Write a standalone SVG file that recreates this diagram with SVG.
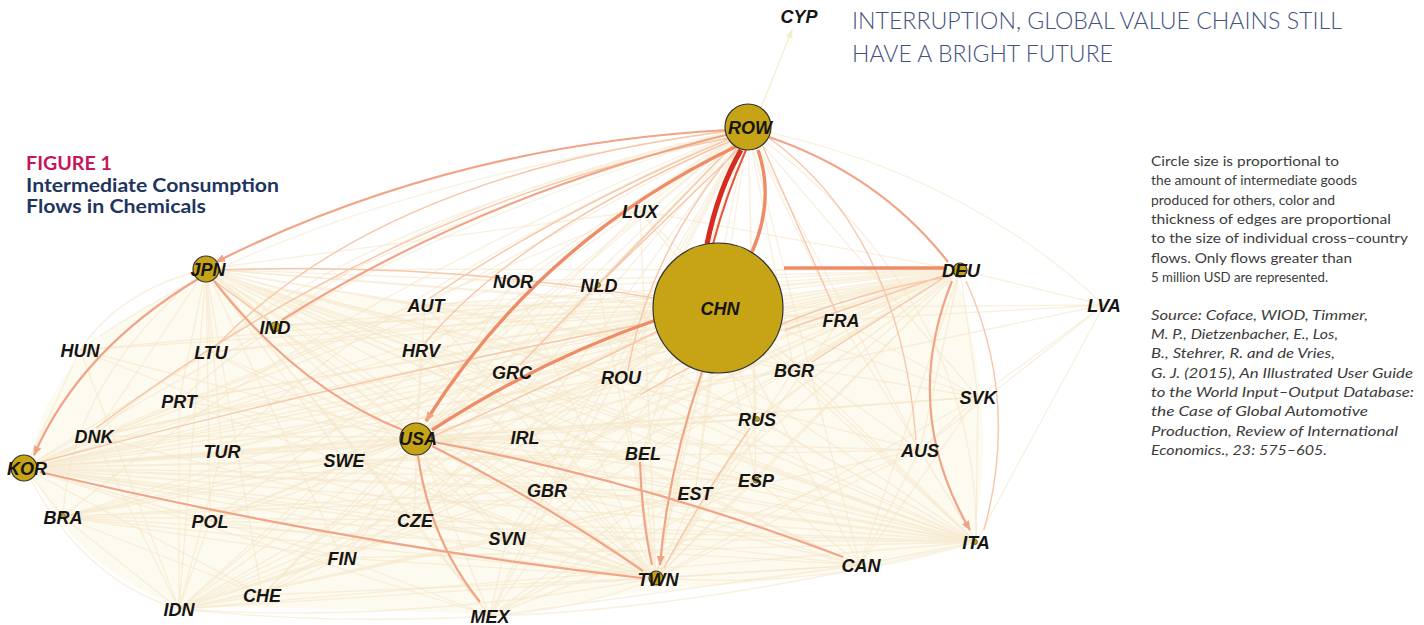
<svg xmlns="http://www.w3.org/2000/svg" width="1424" height="625" viewBox="0 0 1424 625">
<style>
.cream{fill:none;stroke:#f4e4c2;stroke-width:1.3;opacity:.55}
.lo{fill:none;stroke:#f6c7a9;stroke-width:1.4}
.mo{fill:none;stroke:#f1a485;stroke-width:2.2}
.so{fill:none;stroke:#ee8c67;stroke-width:3.4}
.red{fill:none;stroke:#d62b1e;stroke-width:5}
.hub{fill:#c6a415;stroke:#333;stroke-width:1.2}
.dot{fill:#c6a415;stroke:#333;stroke-width:.6}
.lbl{font-family:"Liberation Sans",Arial,sans-serif;font-weight:bold;font-style:italic;font-size:18px;fill:#151515;text-anchor:middle}
.note{font-family:Lato,"Open Sans",sans-serif;font-size:14px;fill:#3c3c3c}
.src{font-family:Lato,"Open Sans",sans-serif;font-size:14px;font-style:italic;fill:#3c3c3c}
.head{font-family:Lato,"Open Sans",sans-serif;font-weight:300;font-size:23px;fill:#43527e}
.ttl{font-family:Lato,"Open Sans",sans-serif;font-weight:bold;font-size:18px;fill:#1f3560}
</style>
<defs>
<marker id="am" markerUnits="userSpaceOnUse" markerWidth="10" markerHeight="8" refX="9" refY="4" orient="auto"><path d="M0 0L10 4L0 8z" fill="#f1a485"/></marker>
<marker id="al" markerUnits="userSpaceOnUse" markerWidth="9" markerHeight="7" refX="8" refY="3.5" orient="auto"><path d="M0 0L9 3.5L0 7z" fill="#f3eec8"/></marker>
</defs>
<rect width="1424" height="625" fill="#fff"/>

<g id="title">
<text x="26" y="170" font-family="Lato,'Open Sans',sans-serif" font-weight="bold" font-size="18" fill="#c7155c" textLength="86" lengthAdjust="spacingAndGlyphs">FIGURE 1</text>
<text class="ttl" x="26" y="192" textLength="253" lengthAdjust="spacingAndGlyphs">Intermediate Consumption</text>
<text class="ttl" x="26" y="213" textLength="180" lengthAdjust="spacingAndGlyphs">Flows in Chemicals</text>
</g>
<g id="heading">
<text class="head" x="852" y="29" textLength="490" lengthAdjust="spacingAndGlyphs">INTERRUPTION, GLOBAL VALUE CHAINS STILL</text>
<text class="head" x="852" y="62" textLength="261" lengthAdjust="spacingAndGlyphs">HAVE A BRIGHT FUTURE</text>
</g>
<g id="legend-note">
<text class="note" x="1151" y="166" textLength="188" lengthAdjust="spacingAndGlyphs">Circle size is proportional to</text>
<text class="note" x="1151" y="185" textLength="206" lengthAdjust="spacingAndGlyphs">the amount of intermediate goods</text>
<text class="note" x="1151" y="205" textLength="184" lengthAdjust="spacingAndGlyphs">produced for others, color and</text>
<text class="note" x="1151" y="224" textLength="240" lengthAdjust="spacingAndGlyphs">thickness of edges are proportional</text>
<text class="note" x="1151" y="243" textLength="257" lengthAdjust="spacingAndGlyphs">to the size of individual cross–country</text>
<text class="note" x="1151" y="263" textLength="201" lengthAdjust="spacingAndGlyphs">flows. Only flows greater than</text>
<text class="note" x="1151" y="282" textLength="177" lengthAdjust="spacingAndGlyphs">5 million USD are represented.</text>
<text class="src" x="1151" y="320" textLength="217" lengthAdjust="spacingAndGlyphs">Source: Coface, WIOD, Timmer,</text>
<text class="src" x="1151" y="339" textLength="187" lengthAdjust="spacingAndGlyphs">M. P., Dietzenbacher, E., Los,</text>
<text class="src" x="1151" y="358" textLength="184" lengthAdjust="spacingAndGlyphs">B., Stehrer, R. and de Vries,</text>
<text class="src" x="1151" y="378" textLength="262" lengthAdjust="spacingAndGlyphs">G. J. (2015), An Illustrated User Guide</text>
<text class="src" x="1151" y="397" textLength="263" lengthAdjust="spacingAndGlyphs">to the World Input–Output Database:</text>
<text class="src" x="1151" y="416" textLength="217" lengthAdjust="spacingAndGlyphs">the Case of Global Automotive</text>
<text class="src" x="1151" y="436" textLength="247" lengthAdjust="spacingAndGlyphs">Production, Review of International</text>
<text class="src" x="1151" y="455" textLength="176" lengthAdjust="spacingAndGlyphs">Economics., 23: 575–605.</text>
</g>

<g id="connectors">
<path d="M30 468Q45 335 206 282L420 302L650 302L958 280Q1000 420 972 540Q820 585 660 588Q560 606 490 614Q320 608 180 606Q75 570 30 468Z" fill="#fcf6e6" opacity=".6"/>
<path d="M757 118L792 30" fill="none" stroke="#f3eec8" stroke-width="1.2" marker-end="url(#al)"/>
<path class="cream" d="M748 128L640 211M748 128L513 281M748 128L598 285M748 128L425 305M748 128Q420 200 274 326M748 128Q300 190 80 350M748 128Q360 220 210 352M748 128L421 350M748 128L511 372M748 128L621 377M748 128Q340 250 179 401M748 128Q300 250 94 436M748 128Q380 290 222 451M748 128L344 460M748 128L524 437M748 128L642 453M748 128L794 370M748 128L756 419M748 128L840 320M748 128Q960 170 1104 305M748 128L978 397M748 128L920 450M748 128L756 480M748 128L695 493M748 128L547 490M748 128L414 520M748 128L507 538M748 128Q320 300 63 517M748 128L210 521M748 128L342 558M748 128L262 595M748 128L179 609M748 128L490 616M748 128L860 565M748 128Q980 300 976 542M748 128L656 578"/>
<path class="cream" d="M718 308L640 211M718 308L513 281M718 308L598 285M718 308L425 305M718 308L274 326M718 308L80 350M718 308L210 352M718 308L421 350M718 308L511 372M718 308L621 377M718 308L179 401M718 308L94 436M718 308L222 451M718 308L344 460M718 308L524 437M718 308L642 453M718 308L794 370M718 308L756 419M718 308L840 320M718 308L1104 305M718 308L978 397M718 308L920 450M718 308L756 480M718 308L695 493M718 308L547 490M718 308L414 520M718 308L507 538M718 308L63 517M718 308L210 521M718 308L342 558M718 308L262 595M718 308L179 609M718 308L490 616M718 308L860 565M718 308L976 542M718 308L656 578M718 308L206 269M718 308L25 468"/>
<path class="cream" d="M960 270L640 211M960 270L513 281M960 270L598 285M960 270L425 305M960 270L274 326M960 270L80 350M960 270L210 352M960 270L421 350M960 270L511 372M960 270L621 377M960 270L179 401M960 270L94 436M960 270L222 451M960 270L344 460M960 270L524 437M960 270L642 453M960 270L794 370M960 270L756 419M960 270L840 320M960 270L1104 305M960 270L978 397M960 270L920 450M960 270L756 480M960 270L695 493M960 270L547 490M960 270L414 520M960 270L507 538M960 270L63 517M960 270L210 521M960 270L342 558M960 270L262 595M960 270L179 609M960 270L490 616M960 270L860 565M960 270L656 578M960 270L206 269M960 270L25 468M960 270L417 437"/>
<path class="cream" d="M417 437L640 211M417 437L513 281M417 437L598 285M417 437L425 305M417 437L274 326M417 437L80 350M417 437L210 352M417 437L421 350M417 437L511 372M417 437L621 377M417 437L179 401M417 437L94 436M417 437L222 451M417 437L344 460M417 437L524 437M417 437L642 453M417 437L794 370M417 437L756 419M417 437L840 320M417 437L978 397M417 437L920 450M417 437L756 480M417 437L695 493M417 437L547 490M417 437L414 520M417 437L507 538M417 437L63 517M417 437L210 521M417 437L342 558M417 437L262 595M417 437L179 609M417 437L490 616M417 437L860 565M417 437L976 542M417 437L656 578M417 437L206 269M417 437L25 468"/>
<path class="cream" d="M206 269L640 211M206 269L513 281M206 269L598 285M206 269L425 305M206 269L274 326M206 269Q120 290 80 350M206 269L210 352M206 269L421 350M206 269L511 372M206 269L621 377M206 269L179 401M206 269L94 436M206 269L222 451M206 269L344 460M206 269L524 437M206 269L642 453M206 269L794 370M206 269L756 419M206 269L840 320M206 269L978 397M206 269L920 450M206 269L756 480M206 269L695 493M206 269L547 490M206 269L414 520M206 269L507 538M206 269Q70 380 63 517M206 269L210 521M206 269L342 558M206 269L262 595M206 269L179 609M206 269L490 616M206 269L860 565M206 269L976 542M206 269L656 578"/>
<path class="cream" d="M25 468L640 211M25 468L513 281M25 468L598 285M25 468L425 305M25 468L274 326M25 468L80 350M25 468L210 352M25 468L421 350M25 468L511 372M25 468L621 377M25 468L179 401M25 468L94 436M25 468L222 451M25 468L344 460M25 468L524 437M25 468L642 453M25 468L794 370M25 468L756 419M25 468L840 320M25 468L978 397M25 468L920 450M25 468L756 480M25 468L695 493M25 468L547 490M25 468L414 520M25 468L507 538M25 468L63 517M25 468L210 521M25 468L342 558M25 468L262 595M25 468Q80 580 179 609M25 468L490 616M25 468L860 565M25 468L976 542M25 468L656 578"/>
<path class="cream" d="M656 578L640 211M656 578L513 281M656 578L598 285M656 578L425 305M656 578L274 326M656 578L80 350M656 578L210 352M656 578L421 350M656 578L511 372M656 578L621 377M656 578L179 401M656 578L94 436M656 578L222 451M656 578L344 460M656 578L524 437M656 578L642 453M656 578L794 370M656 578L756 419M656 578L840 320M656 578L978 397M656 578L920 450M656 578L756 480M656 578L695 493M656 578L547 490M656 578L414 520M656 578L507 538M656 578L63 517M656 578L210 521M656 578L342 558M656 578L262 595M656 578Q400 625 179 609M656 578Q580 610 490 616M656 578L860 565M656 578Q820 590 976 542"/>
<path class="cream" d="M976 542L640 211M976 542L513 281M976 542L598 285M976 542L425 305M976 542L421 350M976 542L511 372M976 542L621 377M976 542L344 460M976 542L524 437M976 542L642 453M976 542L794 370M976 542L756 419M976 542L840 320M976 542L1104 305M976 542L978 397M976 542L920 450M976 542L756 480M976 542L695 493M976 542L547 490M976 542L414 520M976 542L507 538M976 542L342 558M976 542Q700 610 490 616M976 542L860 565M976 542L179 609M976 542L210 521"/>
<path class="cream" d="M179 609L63 517M179 609L210 521M179 609L342 558M179 609L262 595M179 609L414 520M179 609L507 538M179 609L547 490M179 609L695 493M179 609L756 480M179 609L860 565M179 609L920 450M179 609L222 451M179 609L94 436M179 609L344 460M179 609L524 437M179 609L642 453M179 609L179 401M179 609L80 350M179 609Q330 625 490 616M63 517L344 460M63 517L524 437M63 517L547 490M63 517L414 520M63 517L342 558M63 517L262 595M63 517L695 493M63 517L860 565M490 616L414 520M490 616L507 538M490 616L342 558M490 616L547 490M490 616L695 493M490 616L860 565M490 616L756 480M490 616L920 450M860 565L920 450M860 565L756 480M860 565L695 493M860 565L547 490M860 565L978 397M1104 305L978 397M1104 305L920 450M1104 305L840 320M1104 305L794 370M978 397L920 450M978 397L840 320"/>
<path class="lo" d="M729 131Q380 175 216 346M731 138Q560 210 430 298M733 140Q520 230 425 343M735 143L520 365M738 147Q650 250 628 370M740 148L605 278M220 270Q440 262 654 298M213 280L268 320M948 274L785 330M948 275L812 362M948 277Q800 300 640 395M660 330Q560 380 434 436M40 462Q350 380 654 322M750 428Q700 500 664 568M760 140L836 312M765 135Q900 230 916 440M734 137Q400 200 96 428"/>
<path class="lo" d="M966 281Q1020 400 984 530"/>
<path class="mo" d="M728 130Q450 145 216 262" marker-end="url(#am)"/>
<path class="mo" d="M730 134Q480 195 282 320"/>
<path class="mo" d="M198 279Q80 350 34 455" marker-end="url(#am)"/>
<path class="mo" d="M214 281Q300 390 403 430"/>
<path class="mo" d="M40 472Q350 545 642 578"/>
<path class="mo" d="M432 446Q540 500 643 571"/>
<path class="mo" d="M434 442Q640 480 843 557"/>
<path class="mo" d="M702 372Q668 470 660 565" marker-end="url(#am)"/>
<path class="mo" d="M640 462Q642 520 652 565" stroke-width="1.6"/>
<path class="mo" d="M769 137Q880 175 948 262"/>
<path class="mo" d="M952 281Q900 410 970 530" marker-end="url(#am)"/>
<path class="mo" d="M418 456Q430 540 480 602" stroke-width="3"/>
<path class="so" d="M737 146Q540 240 426 421" marker-end="url(#am)"/>
<path class="so" d="M656 320Q540 360 432 430"/>
<path class="so" d="M784 268L947 268" stroke-width="3"/>
<path class="so" d="M758 150Q775 200 752 252" stroke="#ef9c79" stroke-width="3"/>
<path class="red" d="M741 150Q718 190 707 244"/>
<path d="M746 150Q726 195 713 244" fill="none" stroke="#e4553a" stroke-width="2"/>
</g>

<g id="node-ROW"><circle class="hub" cx="748" cy="127" r="23"/><text class="lbl" x="750" y="134">ROW</text></g>
<g id="node-CHN"><circle class="hub" cx="718" cy="308" r="65"/><text class="lbl" x="720" y="315">CHN</text></g>
<g id="node-DEU"><circle class="hub" cx="960" cy="270" r="7"/><text class="lbl" x="961" y="277">DEU</text></g>
<g id="node-JPN"><circle class="hub" cx="206" cy="269" r="13"/><text class="lbl" x="208" y="276">JPN</text></g>
<g id="node-KOR"><circle class="hub" cx="24" cy="468" r="13"/><text class="lbl" x="27" y="475">KOR</text></g>
<g id="node-USA"><circle class="hub" cx="416" cy="439" r="16"/><text class="lbl" x="418" y="445">USA</text></g>
<g id="node-TWN"><circle class="hub" cx="656" cy="578" r="7"/><text class="lbl" x="658" y="586">TWN</text></g>
<g id="node-IND"><circle class="dot" cx="275" cy="327" r="5"/><text class="lbl" x="275" y="334">IND</text></g>
<g id="node-NLD"><circle class="dot" cx="598" cy="285" r="2.5"/><text class="lbl" x="599" y="292">NLD</text></g>
<g id="node-BRA"><circle class="dot" cx="63" cy="516" r="2.5"/><text class="lbl" x="63" y="524">BRA</text></g>
<g id="node-ESP"><circle class="dot" cx="756" cy="480" r="3"/><text class="lbl" x="756" y="487">ESP</text></g>
<g id="node-RUS"><circle class="dot" cx="757" cy="419" r="2.5"/><text class="lbl" x="757" y="426">RUS</text></g>
<g id="node-ITA"><circle class="dot" cx="975" cy="542" r="2.5"/><text class="lbl" x="976" y="549">ITA</text></g>
<g id="node-CYP"><text class="lbl" x="799" y="23">CYP</text></g>
<g id="node-LUX"><text class="lbl" x="640" y="218">LUX</text></g>
<g id="node-NOR"><text class="lbl" x="513" y="288">NOR</text></g>
<g id="node-AUT"><text class="lbl" x="426" y="312">AUT</text></g>
<g id="node-HUN"><text class="lbl" x="80" y="357">HUN</text></g>
<g id="node-LTU"><text class="lbl" x="211" y="359">LTU</text></g>
<g id="node-HRV"><text class="lbl" x="421" y="357">HRV</text></g>
<g id="node-GRC"><text class="lbl" x="512" y="379">GRC</text></g>
<g id="node-ROU"><text class="lbl" x="621" y="384">ROU</text></g>
<g id="node-PRT"><text class="lbl" x="179" y="408">PRT</text></g>
<g id="node-DNK"><text class="lbl" x="94" y="443">DNK</text></g>
<g id="node-TUR"><text class="lbl" x="222" y="458">TUR</text></g>
<g id="node-SWE"><text class="lbl" x="344" y="467">SWE</text></g>
<g id="node-IRL"><text class="lbl" x="525" y="444">IRL</text></g>
<g id="node-BEL"><text class="lbl" x="643" y="460">BEL</text></g>
<g id="node-BGR"><text class="lbl" x="794" y="377">BGR</text></g>
<g id="node-FRA"><text class="lbl" x="841" y="327">FRA</text></g>
<g id="node-LVA"><text class="lbl" x="1104" y="312">LVA</text></g>
<g id="node-SVK"><text class="lbl" x="978" y="404">SVK</text></g>
<g id="node-AUS"><text class="lbl" x="920" y="457">AUS</text></g>
<g id="node-EST"><text class="lbl" x="695" y="500">EST</text></g>
<g id="node-GBR"><text class="lbl" x="547" y="497">GBR</text></g>
<g id="node-CZE"><text class="lbl" x="415" y="527">CZE</text></g>
<g id="node-SVN"><text class="lbl" x="507" y="545">SVN</text></g>
<g id="node-POL"><text class="lbl" x="210" y="528">POL</text></g>
<g id="node-FIN"><text class="lbl" x="342" y="565">FIN</text></g>
<g id="node-CHE"><text class="lbl" x="262" y="602">CHE</text></g>
<g id="node-IDN"><text class="lbl" x="179" y="616">IDN</text></g>
<g id="node-MEX"><text class="lbl" x="490" y="623">MEX</text></g>
<g id="node-CAN"><text class="lbl" x="861" y="572">CAN</text></g>
</svg>
